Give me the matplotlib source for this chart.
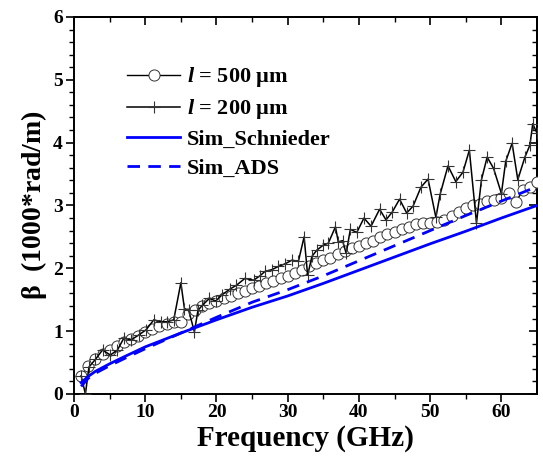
import matplotlib
matplotlib.use("Agg")
import matplotlib.pyplot as plt
import numpy as np

plt.rcParams['font.family'] = ['Liberation Serif', 'DejaVu Serif']
plt.rcParams['font.weight'] = 'bold'
plt.rcParams['mathtext.fontset'] = 'custom'
plt.rcParams['mathtext.it'] = 'Liberation Serif:bold:italic'
plt.rcParams['mathtext.rm'] = 'Liberation Serif'
plt.rcParams['mathtext.bf'] = 'Liberation Serif:bold'

# ---- data ----
f500 = [1, 2, 3, 4, 5, 6, 7, 8, 9, 10, 11, 12, 13, 14, 15, 16, 17, 18, 19, 20,
        21, 22, 23, 24, 25, 26, 27, 28, 29, 30, 31, 32, 33, 34, 35, 36, 37, 38, 39, 40,
        41, 42, 43, 44, 45, 46, 47, 48, 49, 50, 51, 52, 53, 54, 55, 56, 57, 58, 59, 60,
        61, 62, 63, 64, 65]
b500 = [0.29, 0.45, 0.55, 0.63, 0.70, 0.77, 0.83, 0.88, 0.93, 0.98, 1.03, 1.08, 1.12, 1.15, 1.14,
        1.28, 1.33, 1.40, 1.45, 1.48, 1.52, 1.56, 1.60, 1.64, 1.68, 1.72, 1.76, 1.80, 1.85, 1.88,
        1.92, 1.97, 2.03, 2.08, 2.13, 2.17, 2.22, 2.27, 2.32, 2.36, 2.40, 2.44, 2.50, 2.54, 2.58,
        2.62, 2.66, 2.70, 2.72, 2.72, 2.74, 2.77, 2.84, 2.90, 2.96, 3.00, 3.02, 3.07, 3.09, 3.12,
        3.20, 3.05, 3.24, 3.30, 3.38]

f200 = [1.0, 1.6, 2.1, 3.0, 4.0, 5.1, 6.1, 7.0, 8.0, 9.1, 10.1, 11.2, 12.2, 13.1, 14.0, 15.0,
        15.5, 16.1, 16.9, 17.4, 18.0, 19.0, 19.9, 20.8, 21.9, 22.8, 24.0, 25.2, 26.1, 26.8, 27.8,
        28.7, 29.6, 30.6, 31.5, 32.3, 32.8, 33.4, 34.1, 35.0, 35.7, 36.7, 37.1, 37.7, 38.2, 38.8,
        39.7, 40.7, 41.7, 42.9, 43.8, 44.7, 45.7, 46.7, 47.6, 48.7, 49.7, 50.8, 51.4, 52.5, 53.6,
        54.6, 55.5, 56.5, 57.2, 58.0, 58.9, 60.0, 60.6, 61.5, 62.3, 63.3, 64.0, 64.4, 65.0]
b200 = [0.29, 0.00, 0.43, 0.55, 0.70, 0.62, 0.70, 0.89, 0.86, 0.94, 1.02, 1.18, 1.15, 1.15, 1.18, 1.77,
        1.36, 1.33, 0.99, 1.33, 1.41, 1.52, 1.48, 1.58, 1.67, 1.73, 1.84, 1.81, 1.88, 1.95, 1.98,
        2.03, 2.07, 2.13, 2.11, 2.50, 1.89, 2.19, 2.29, 2.37, 2.40, 2.66, 2.42, 2.44, 2.24, 2.62,
        2.57, 2.80, 2.67, 2.94, 2.77, 2.90, 3.10, 2.88, 2.99, 3.29, 3.42, 2.81, 3.18, 3.63, 3.38,
        3.53, 3.88, 2.72, 3.41, 3.77, 3.59, 3.19, 3.70, 3.99, 3.41, 3.77, 3.96, 4.30, 4.15]

f_sim = [1, 2, 3, 5, 7, 10, 15, 20, 25, 30, 35, 40, 45, 50, 55, 60, 65]
b_schnieder = [0.18, 0.28, 0.36, 0.48, 0.59, 0.75, 0.97, 1.18, 1.38, 1.56, 1.76, 1.97, 2.18, 2.39, 2.59, 2.80, 3.00]
b_ads = [0.12, 0.25, 0.33, 0.45, 0.56, 0.72, 0.97, 1.22, 1.46, 1.66, 1.88, 2.12, 2.36, 2.60, 2.84, 3.07, 3.30]

labels = [r"$l$ = 500 µm", r"$l$ = 200 µm", "Sim_Schnieder", "Sim_ADS"]
xticks = [0, 10, 20, 30, 40, 50, 60]
yticks = [0, 1, 2, 3, 4, 5, 6]

# ---- figure ----
fig = plt.figure(figsize=(5.43, 4.57), dpi=100)
ax = fig.add_axes([0.1363, 0.1379, 0.8527, 0.8250])

ax.plot(f500, b500, color='black', lw=1.0, marker='o', ms=8, mfc='white', mec='#333333',
        mew=0.7, label=labels[0], zorder=3)
ax.plot(f200, b200, color='black', lw=1.1, marker='+', ms=9, mec='#333333', mew=0.8,
        label=labels[1], zorder=4)
ax.plot(f_sim, b_schnieder, color='#0000ff', lw=2.0, label=labels[2], zorder=5)
ax.plot(f_sim, b_ads, color='#0000ff', lw=2.0, ls=(0, (4.5, 3)), label=labels[3], zorder=5)

ax.set_xlim(0, 65)
ax.set_ylim(0, 6)
ax.set_xticks(xticks)
ax.set_yticks(yticks)
ax.set_xticks(np.arange(5, 65, 10), minor=True)
ax.set_yticks(np.arange(0, 6.01, 0.2), minor=True)
ax.tick_params(axis='both', which='major', direction='out', length=6, width=1.2, labelsize=14)
ax.tick_params(axis='both', which='minor', direction='out', length=3.5, width=1.0)
ax.tick_params(axis='x', pad=1)
ax.tick_params(axis='y', pad=2)
for lab in ax.get_xticklabels() + ax.get_yticklabels():
    lab.set_fontweight('bold')
for s in ax.spines.values():
    s.set_linewidth(1.4)

secx = ax.secondary_xaxis('top')
secx.set_xticks(xticks)
secx.set_xticks(np.arange(5, 65, 10), minor=True)
secx.tick_params(which='major', direction='in', length=6, width=1.2, labeltop=False)
secx.tick_params(which='minor', direction='in', length=3.5, width=1.0)
secx.spines['top'].set_linewidth(1.4)
secy = ax.secondary_yaxis('right')
secy.set_yticks(yticks)
secy.set_yticks(np.arange(0, 6.01, 0.2), minor=True)
secy.tick_params(which='major', direction='in', length=6, width=1.2, labelright=False)
secy.tick_params(which='minor', direction='in', length=3.5, width=1.0)
secy.spines['right'].set_linewidth(1.4)

ax.set_xlabel("Frequency (GHz)", fontsize=21, fontweight='bold', labelpad=3)
ax.set_ylabel(r"$\mathrm{β}$  (1000*rad/m)", fontsize=20, fontweight='bold', labelpad=3)

leg = ax.legend(loc='upper left', bbox_to_anchor=(0.095, 0.895), frameon=False,
                fontsize=16, handlelength=2.4, handletextpad=0.3, labelspacing=0.36,
                borderaxespad=0)

fig.savefig("out.png", dpi=100)
